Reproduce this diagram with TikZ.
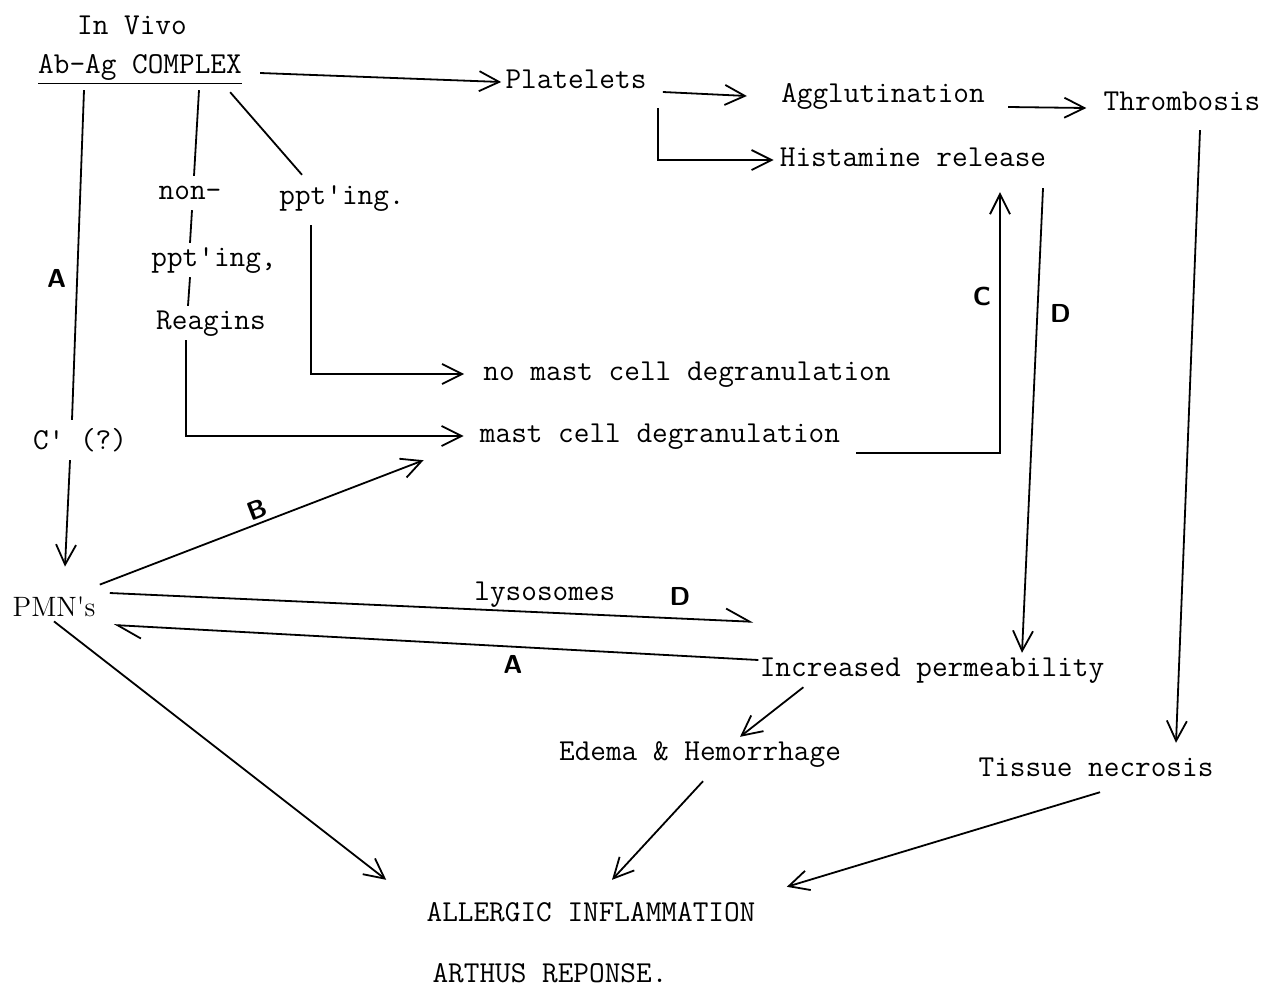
\documentclass[tikz,border=0pt]{standalone}
\usetikzlibrary{arrows.meta}
\newcommand\tw{\ttfamily\fontsize{15.2}{18}\selectfont}
\begin{document}
\begin{tikzpicture}[
  x=0.5pt, y=-0.5pt,
  txt/.style={font=\tw, inner sep=2pt, text height=9.5pt, text depth=3.3pt},
  tag/.style={font=\sffamily\bfseries\fontsize{13}{15}\selectfont, inner sep=0pt},
  arrow/.style={-{Straight Barb[length=10pt,width=10pt]}, line width=0.9pt},
  harpoon/.style={-{Straight Barb[left,length=12pt,width=12pt]}, line width=0.9pt},
  link/.style={line width=0.9pt}
]
\useasboundingbox (0,0) rectangle (1267,992);

% Complex at the top
\node[txt] (vivo) at (132, 28) {In Vivo};
\node[txt] (cplx) at (140, 67) {\underline{Ab-Ag COMPLEX}};

% Platelet branch
\node[txt] (plt) at (576, 82) {Platelets};
\node[txt] (agg) at (883, 96) {Agglutination};
\node[txt] (thr) at (1182, 104) {Thrombosis};
\node[txt] (hist) at (913, 160) {Histamine release};

% Antibody branches
\node[txt] (non) at (190, 193) {non-};
\node[txt] (pptr) at (342, 198) {ppt\textquotesingle ing.};
\node[txt] (pptl) at (214, 260) {ppt\textquotesingle ing,};
\node[txt] (reag) at (211, 323) {Reagins};
\node[txt] (cq) at (80, 443) {C\textquotesingle{} (?)};
\node[txt] (nomast) at (687, 374) {no mast cell degranulation};
\node[txt] (mast) at (660, 436) {mast cell degranulation};

% Lower part
\node[font=\rmfamily\fontsize{14}{16}\selectfont, inner sep=2pt] (pmn) at (54, 607) {PMN\textquotesingle s};
\node[txt] (incp) at (932, 670) {Increased permeability};
\node[txt] (edema) at (700, 754) {Edema \& Hemorrhage};
\node[txt] (tissue) at (1096, 770) {Tissue necrosis};
\node[txt] (allerg) at (591, 915) {ALLERGIC INFLAMMATION};
\node[txt] (arthus) at (550, 976) {ARTHUS REPONSE.};

% Platelet connections
\draw[arrow] ([xshift=7pt,yshift=-3pt]cplx.east) -- (plt.west);
\draw[arrow] ([xshift=6pt,yshift=-5pt]plt.east) -- ([xshift=-15pt]agg.west);
\draw[arrow] ([xshift=3.5pt,yshift=-4.5pt]plt.south east) |- ([xshift=-1pt]hist.west);
\draw[arrow] ([xshift=9.5pt,yshift=-5.5pt]agg.east) -- ([xshift=-6.5pt,yshift=-2pt]thr.west);
\draw[arrow] ([xshift=9pt,yshift=-4.5pt]thr.south) -- ([xshift=40pt,yshift=5pt]tissue.north);
\draw[arrow] ([xshift=65pt,yshift=-5.5pt]hist.south) -- ([xshift=45pt]incp.north)
  node[tag, pos=0.27, right=6pt] (tD1) {D};

% Complement path
\draw[link] ([xshift=-28pt,yshift=-3pt]cplx.south) -- ([xshift=-4pt,yshift=3pt]cq.north)
  node[tag, pos=0.57, left=5pt] (tA1) {A};
\draw[arrow] ([xshift=-5pt]cq.south) -- ([xshift=5.5pt,yshift=13pt]pmn.north);

% Non-precipitating path
\draw[link] ([xshift=29.5pt,yshift=-3pt]cplx.south) -- ([xshift=2pt]non.north);
\draw[link] ([xshift=1pt]non.south) -- ([xshift=-12pt]pptl.north);
\draw[link] ([xshift=-12pt]pptl.south) -- ([xshift=-11.5pt]reag.north);
\draw[arrow] ([xshift=-12.5pt]reag.south) |- ([xshift=-6pt]mast.west);

% Precipitating path
\draw[link] ([xshift=-8pt,yshift=-4pt]cplx.south east) -- ([xshift=-20pt,yshift=3pt]pptr.north);
\draw[arrow] ([xshift=-15.5pt,yshift=-5pt]pptr.south) |- ([xshift=-7.5pt]nomast.west);

% Mast cells to histamine
\draw[arrow] ([xshift=6pt]mast.south east) -| ([xshift=43.5pt,yshift=-7.5pt]hist.south)
  node[tag, pos=0.8, left=4pt] (tC) {C};

% PMN connections
\draw[arrow] ([yshift=4pt]pmn.north east) -- ([xshift=-26pt,yshift=-3.5pt]mast.south west)
  node[tag, midway, sloped, above=2pt] (tB) {B};
\draw[harpoon] ([xshift=5pt,yshift=7pt]pmn.east) -- ([xshift=-1pt,yshift=15.5pt]incp.north west)
  node[txt, pos=0.676, above] (lyso) {lysosomes}
  node[tag, pos=0.886, above=6pt] (tD2) {D};
\draw[harpoon] ([xshift=1.5pt,yshift=5pt]incp.west) -- ([xshift=7pt,yshift=-9pt]pmn.east)
  node[tag, pos=0.381, below=4pt] (tA2) {A};
\draw[arrow] ([xshift=24pt]incp.south west) -- ([xshift=20pt]edema.north);

% Into the inflammation
\draw[arrow] (pmn.south) -- ([xshift=-18pt,yshift=9pt]allerg.north west);
\draw[arrow] ([xshift=1.5pt,yshift=-5pt]edema.south) -- ([xshift=10.5pt,yshift=9pt]allerg.north);
\draw[arrow] ([xshift=2pt,yshift=-2.5pt]tissue.south) -- ([xshift=13.5pt,yshift=5.5pt]allerg.north east);

\end{tikzpicture}
\end{document}
